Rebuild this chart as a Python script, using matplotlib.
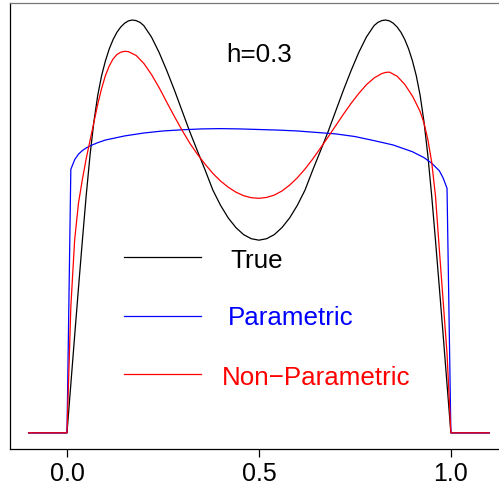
import matplotlib
matplotlib.use("Agg")
import matplotlib.pyplot as plt

plt.rcParams['font.family'] = ['Liberation Sans', 'DejaVu Sans']

# true density
x_true = [-0.1, 0.0, 0.01, 0.02, 0.03, 0.04, 0.05, 0.06, 0.07, 0.08, 0.09, 0.10,
          0.11, 0.12, 0.13, 0.14, 0.15, 0.16, 0.17, 0.18, 0.19, 0.20, 0.22,
          0.24, 0.26, 0.28, 0.30, 0.32, 0.34, 0.36, 0.38, 0.40, 0.42, 0.44,
          0.46, 0.48, 0.50, 0.52, 0.54, 0.56, 0.58, 0.60, 0.62, 0.64, 0.66,
          0.68, 0.70, 0.72, 0.74, 0.76, 0.78, 0.80, 0.81, 0.82, 0.83, 0.84,
          0.85, 0.86, 0.87, 0.88, 0.89, 0.90, 0.91, 0.92, 0.93, 0.94, 0.95,
          0.96, 0.97, 0.98, 0.99, 1.0, 1.1]
y_true = [0.0, 0.0, 0.166, 0.332, 0.496, 0.656, 0.810, 0.948, 1.062, 1.152, 1.219, 1.270,
          1.311, 1.343, 1.368, 1.386, 1.399, 1.407, 1.410, 1.408, 1.402, 1.391, 1.352,
          1.299, 1.237, 1.170, 1.099, 1.028, 0.962, 0.897, 0.829, 0.777, 0.734, 0.701,
          0.677, 0.663, 0.658, 0.663, 0.677, 0.701, 0.734, 0.777, 0.829, 0.897, 0.962,
          1.028, 1.099, 1.170, 1.237, 1.299, 1.352, 1.391, 1.402, 1.408, 1.410, 1.407,
          1.399, 1.386, 1.368, 1.343, 1.311, 1.270, 1.219, 1.152, 1.062, 0.948, 0.810,
          0.656, 0.496, 0.332, 0.166, 0.0, 0.0]

# parametric fit
x_par = [-0.1, 0.0, 0.01, 0.02, 0.03, 0.04, 0.05, 0.06, 0.08, 0.10, 0.15, 0.20,
         0.25, 0.30, 0.35, 0.40, 0.45, 0.50, 0.55, 0.60, 0.65, 0.70, 0.75,
         0.80, 0.85, 0.90, 0.93, 0.95, 0.97, 0.98, 0.99, 1.0, 1.1]
y_par = [0.0, 0.0, 0.900, 0.933, 0.952, 0.964, 0.973, 0.980, 0.991, 1.000, 1.014, 1.024,
         1.031, 1.035, 1.038, 1.039, 1.038, 1.036, 1.034, 1.031, 1.026, 1.021, 1.012,
         0.998, 0.983, 0.960, 0.940, 0.921, 0.895, 0.870, 0.835, 0.0, 0.0]

# non-parametric estimate, h=0.3
x_np = [-0.1, 0.0, 0.01, 0.02, 0.03, 0.04, 0.05, 0.06, 0.07, 0.08, 0.09, 0.10,
        0.11, 0.12, 0.13, 0.14, 0.15, 0.16, 0.18, 0.20, 0.22, 0.24, 0.26,
        0.28, 0.30, 0.32, 0.34, 0.36, 0.38, 0.40, 0.42, 0.44, 0.46, 0.48,
        0.50, 0.52, 0.54, 0.56, 0.58, 0.60, 0.62, 0.64, 0.66, 0.68, 0.70,
        0.72, 0.74, 0.76, 0.78, 0.80, 0.82, 0.83, 0.84, 0.86, 0.88, 0.90,
        0.91, 0.92, 0.93, 0.94, 0.95, 0.96, 0.97, 0.98, 0.99, 1.0, 1.1]
y_np = [0.0, 0.0, 0.430, 0.660, 0.785, 0.865, 0.936, 0.998, 1.060, 1.122, 1.175, 1.220,
        1.253, 1.277, 1.292, 1.300, 1.303, 1.302, 1.289, 1.262, 1.224, 1.179, 1.129,
        1.080, 1.033, 0.989, 0.951, 0.917, 0.886, 0.860, 0.839, 0.822, 0.810, 0.803,
        0.801, 0.804, 0.812, 0.826, 0.846, 0.871, 0.901, 0.935, 0.972, 1.010, 1.049,
        1.088, 1.125, 1.159, 1.189, 1.212, 1.227, 1.231, 1.232, 1.218, 1.190, 1.150,
        1.124, 1.097, 1.058, 1.002, 0.925, 0.808, 0.625, 0.448, 0.270, 0.0, 0.0]

labels = ['True', 'Parametric', 'Non\u2212Parametric']
colors = ['black', 'blue', 'red']

fig = plt.figure(figsize=(4.99, 4.89), dpi=100)
ax = fig.add_axes([0.0204, 0.0791, 0.997, 0.9117])

ax.plot(x_true, y_true, color='black', lw=0.9)
ax.plot(x_par, y_par, color='blue', lw=0.9)
ax.plot(x_np, y_np, color='red', lw=0.9)

ymax = max(y_true)
ax.set_xlim(-0.148, 1.148)
ax.set_ylim(-0.04 * ymax, 1.04 * ymax)

# legend drawn by hand, R style
line_y = [0.601, 0.399, 0.202]
text_x = [0.4245, 0.4185, 0.403]
text_y = [0.567, 0.370, 0.168]
for lab, col, ly, tx, ty in zip(labels, colors, line_y, text_x, text_y):
    ax.plot([0.148, 0.35], [ly, ly], color=col, lw=0.9)
    ax.text(tx, ty, lab, color=col, fontsize=18.7, va='baseline', ha='left')

ax.text(0.5, 1.27, 'h=0.3', fontsize=18.7, ha='center', va='baseline')

ax.set_xticks([0.0, 0.5, 1.0])
ax.set_xticklabels(['0.0', '0.5', '1.0'])
ax.set_yticks([])
ax.tick_params(axis='x', length=6, width=0.9, pad=2.5, labelsize=18)
for s in ax.spines.values():
    s.set_linewidth(0.9)
ax.spines['top'].set_color('#777777')

fig.savefig('out.png', dpi=100)
